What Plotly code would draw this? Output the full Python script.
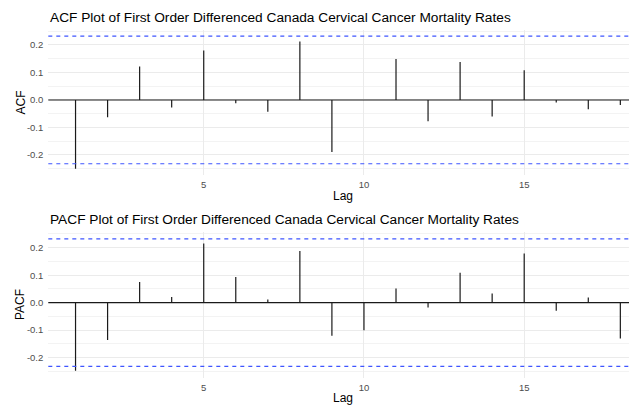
import plotly.graph_objects as go

# ---- data ----
lags = list(range(1, 19))
acf_values = [-0.250, -0.063, 0.122, -0.027, 0.180, -0.012, -0.043, 0.213, -0.189,
              0.000, 0.149, -0.077, 0.138, -0.060, 0.108, -0.009, -0.034, -0.018]
pacf_values = [-0.248, -0.136, 0.075, 0.021, 0.215, 0.093, 0.012, 0.188, -0.120,
               -0.100, 0.052, -0.018, 0.109, 0.033, 0.179, -0.029, 0.019, -0.130]
ci = 0.232
x_tick_vals = [5, 10, 15]
x_tick_text = ["5", "10", "15"]
y_tick_vals = [-0.2, -0.1, 0.0, 0.1, 0.2]
y_tick_text = ["-0.2", "-0.1", "0.0", "0.1", "0.2"]
y_minor_vals = [-0.25, -0.15, -0.05, 0.05, 0.15, 0.25]
titles = ["ACF Plot of First Order Differenced Canada Cervical Cancer Mortality Rates",
          "PACF Plot of First Order Differenced Canada Cervical Cancer Mortality Rates"]
y_titles = ["ACF", "PACF"]
x_title = "Lag"

# page is 637x405; the html body has an 8px margin, so the figure is offset by 8px
OFF = 8
W, H = 637 - OFF, 405 - OFF
FONT = "Liberation Sans, Arial, Helvetica, sans-serif"

def px(xp):
    return (xp - OFF) / W

def py(yp):
    return 1 - (yp - OFF) / H

def seg(xs, ys):
    X, Y = [], []
    for x, y in zip(xs, ys):
        X += [x, x, None]
        Y += [0, y, None]
    return X, Y

fig = go.Figure()
panels = [("x", "y", acf_values), ("x2", "y2", pacf_values)]
for xa, ya, vals in panels:
    X, Y = seg(lags, vals)
    fig.add_trace(go.Scatter(x=X, y=Y, mode="lines", xaxis=xa, yaxis=ya,
                             line=dict(color="#1a1a1a", width=1.2),
                             hoverinfo="skip", showlegend=False))

shapes = []
for xa, ya, _ in panels:
    shapes.append(dict(type="line", xref=f"{xa} domain", yref=ya, x0=0, x1=1, y0=0, y1=0,
                       line=dict(color="#1a1a1a", width=1.2), layer="above"))
    for c in (ci, -ci):
        shapes.append(dict(type="line", xref=f"{xa} domain", yref=ya, x0=0, x1=1, y0=c, y1=c,
                           line=dict(color="#3F55FF", width=1.2, dash="4px,4px"), layer="above"))

xrange = [0.15, 18.52]
ydoms = [[py(175.3), py(29.6)], [py(378.0), py(232.3)]]
yrange = [-0.274, 0.256]

common_x = dict(range=xrange, domain=[px(48.3), 1], tickvals=x_tick_vals, ticktext=x_tick_text,
                showgrid=True, gridcolor="#EBEBEB", gridwidth=1, zeroline=False, showline=False,
                ticks="", tickfont=dict(family=FONT, size=9.5, color="#4D4D4D"),
                ticklabelstandoff=2)
common_y = dict(range=yrange, tickvals=y_tick_vals, ticktext=y_tick_text,
                showgrid=True, gridcolor="#EBEBEB", gridwidth=1, zeroline=False, showline=False,
                ticks="", tickfont=dict(family=FONT, size=9.5, color="#4D4D4D"),
                minor=dict(tickvals=y_minor_vals, showgrid=True, gridcolor="#F3F3F3", gridwidth=0.6),
                ticklabelstandoff=4)

annotations = []
title_y = [17, 220]
lag_y = [196, 398]
ylab_y = [102.5, 305]
for i in range(2):
    annotations.append(dict(text=titles[i], xref="paper", yref="paper", x=px(48.3), y=py(title_y[i]),
                            xanchor="left", yanchor="middle", showarrow=False,
                            font=dict(family=FONT, size=13.7, color="black")))
    annotations.append(dict(text=x_title, xref="paper", yref="paper", x=px(342.5), y=py(lag_y[i]),
                            xanchor="center", yanchor="middle", showarrow=False,
                            font=dict(family=FONT, size=12, color="black")))
    annotations.append(dict(text=y_titles[i], xref="paper", yref="paper", x=px(20), y=py(ylab_y[i]),
                            xanchor="center", yanchor="middle", showarrow=False, textangle=-90,
                            font=dict(family=FONT, size=12, color="black")))

fig.update_layout(
    width=W, height=H, margin=dict(l=0, r=0, t=0, b=0),
    paper_bgcolor="white", plot_bgcolor="white",
    xaxis=dict(common_x, anchor="y"),
    yaxis=dict(common_y, domain=ydoms[0], anchor="x"),
    xaxis2=dict(common_x, anchor="y2"),
    yaxis2=dict(common_y, domain=ydoms[1], anchor="x2"),
    shapes=shapes, annotations=annotations, showlegend=False,
)

fig.write_html("out.html")
